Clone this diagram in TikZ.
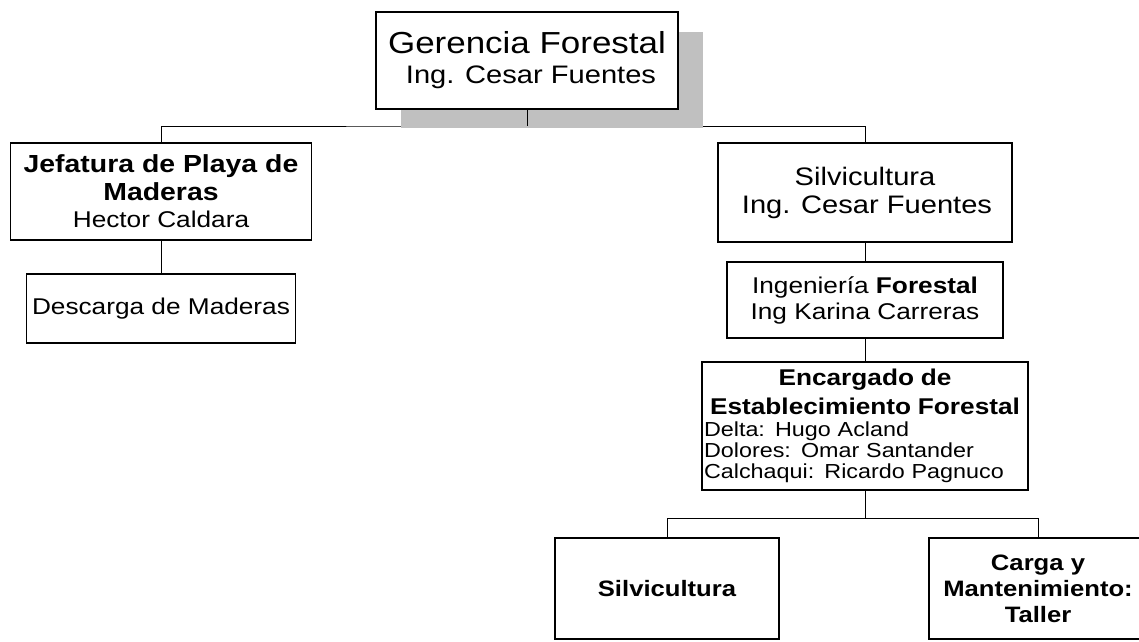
\documentclass[tikz,border=0pt]{standalone}
\usepackage{fontspec}
\setmainfont{Liberation Sans}[FakeStretch=1.15]
\newcommand\fsz[2]{\fontsize{#1}{#2}\selectfont}
\definecolor{shadowgray}{HTML}{C0C0C0}
\begin{document}
\begin{tikzpicture}[x=1pt,y=-1pt,
  box/.style 2 args={draw=black, line width=1.3pt, fill=white, inner sep=0pt,
    align=center, minimum width=#1, minimum height=#2},
  conn/.style={draw=black, line width=0.9pt},
  shadowbox/.style={fill=shadowgray, draw=none}]
\useasboundingbox (0,0) rectangle (1139,641);
\clip (0,0) rectangle (1139,641);

% second level
\node[box={301pt}{97pt}, font=\fsz{24.7}{27.5}] (jef) at (161,191.5)
  {\textbf{Jefatura de Playa de}\\\textbf{Maderas}\\{\fsz{22.8}{27}Hector Caldara}};
\node[box={294pt}{99pt}, font=\fsz{25.3}{28}] (sil) at (865,192.5)
  {Silvicultura\\\hspace*{4pt}Ing. Cesar Fuentes};

% top bus
\coordinate (bus1) at (527,126);
\draw[conn] (jef.north) |- (bus1) -| (sil.north);

% top box with shadow
\fill[shadowbox] (401,32) rectangle (703,128);
\node[box={302pt}{97pt}, font=\fsz{30.4}{30}] (ger) at (527,60.5)
  {Gerencia Forestal\\{\fsz{25.3}{30}\hspace*{8pt}Ing. Cesar Fuentes}};
\draw[conn] (ger.south) -- (bus1);

% left branch
\node[box={269pt}{69pt}, font=\fsz{22.8}{26}] (des) at (161,308.5)
  {Descarga de Maderas};
\draw[conn] (jef.south) -- (des.north);

% right branch
\node[box={276pt}{76pt}, font=\fsz{22.8}{26}] (ing) at (865,300)
  {Ingenier\'ia \textbf{Forestal}\\Ing Karina Carreras};
\draw[conn] (sil.south) -- (ing.north);

\node[draw=black, line width=1.3pt, fill=white, inner ysep=0pt, inner xsep=2pt,
  text width=322pt, align=left, minimum height=128pt, font=\fsz{20.3}{21}]
  (enc) at (865,426)
  {\makebox[322pt][c]{\fsz{22.8}{21}\bfseries Encargado de}\\[6pt]
   \makebox[322pt][c]{\fsz{22.8}{21}\bfseries Establecimiento Forestal}\\[1pt]
   Delta: Hugo Acland\\
   Dolores: Omar Santander\\
   Calchaqui: Ricardo Pagnuco};
\draw[conn] (ing.south) -- (enc.north);

% bottom level
\node[box={224pt}{101pt}, font=\fsz{22.3}{26}\bfseries] (sv2) at (667,588.5)
  {Silvicultura};
\node[box={218pt}{101pt}, font=\fsz{22.3}{26}\bfseries] (car) at (1038,588.5)
  {Carga y\\Mantenimiento:\\Taller};
\coordinate (bus2) at (865,518);
\draw[conn] (enc.south) -- (bus2);
\draw[conn] (sv2.north) |- (bus2) -| (car.north);
\end{tikzpicture}
\end{document}
